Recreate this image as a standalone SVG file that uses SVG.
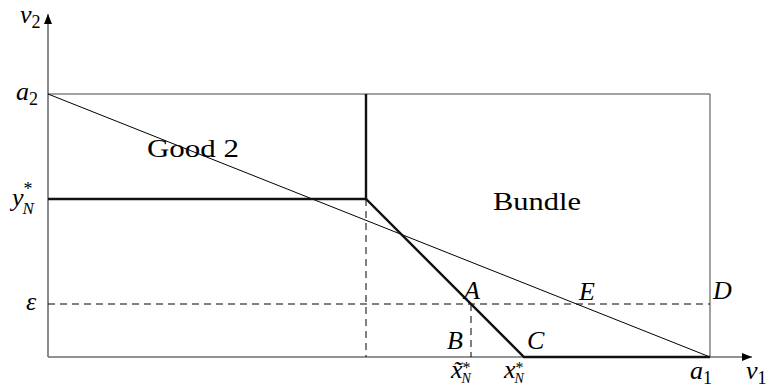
<svg xmlns="http://www.w3.org/2000/svg" width="769" height="387" viewBox="0 0 769 387">
<defs>
<marker id="arr" viewBox="0 0 10 10" refX="10" refY="5" markerWidth="10" markerHeight="10" markerUnits="userSpaceOnUse" orient="auto">
<path d="M0,1 L10,5 L0,9 Z" fill="#000"/>
</marker>
<style>
.ax{stroke:#6e6e6e;stroke-width:1.6;fill:none}
.thin{stroke:#000;stroke-width:1;fill:none}
.box{stroke:#444;stroke-width:1;fill:none}
.thick{stroke:#111;stroke-width:2.4;fill:none;stroke-linejoin:miter}
.dash{stroke:#000;stroke-width:1;fill:none;stroke-dasharray:7,5}
text{font-family:"Liberation Serif","Times New Roman","DejaVu Serif",serif;fill:#000}
.m{font-style:italic;font-size:26px}
.n{font-style:normal;font-size:18px}
.s{font-style:italic;font-size:17px}
.st{font-style:normal;font-size:16px}
.ss{font-style:italic;font-size:14px}
.t{font-size:26px}
</style>
</defs>
<g id="connectors">
<line class="ax" x1="48" y1="357" x2="48" y2="14" marker-end="url(#arr)"/>
<line class="ax" x1="48" y1="357" x2="752" y2="357" marker-end="url(#arr)"/>
<polyline class="box" points="48,94 710,94 710,357"/>
<line class="thin" x1="48" y1="94" x2="710" y2="357"/>
<line class="dash" x1="48" y1="304" x2="710" y2="304"/>
<line class="dash" x1="366" y1="199" x2="366" y2="357"/>
<line class="dash" x1="471" y1="304" x2="471" y2="357"/>
<polyline class="thick" points="48,199 366,199 524,357 710,357"/>
<line class="thick" x1="366" y1="94" x2="366" y2="199"/>
</g>
<g id="label-v2"><text class="m" x="20" y="23">v<tspan class="n" dy="5">2</tspan></text></g>
<g id="label-a2"><text class="m" x="16" y="100">a<tspan class="n" dy="5">2</tspan></text></g>
<g id="label-yN"><text class="m" x="12" y="206">y<tspan class="n" dy="-11">*</tspan><tspan class="s" dx="-10" dy="19">N</tspan></text></g>
<g id="label-eps"><text class="m" x="26" y="310" fill="#444">ε</text></g>
<g id="region-good2"><text class="t" x="147" y="157" textLength="92" lengthAdjust="spacingAndGlyphs">Good 2</text></g>
<g id="region-bundle"><text class="t" x="493" y="210" textLength="88" lengthAdjust="spacingAndGlyphs">Bundle</text></g>
<g id="point-A"><text class="m" x="464" y="299">A</text></g>
<g id="point-E"><text class="m" x="579" y="300">E</text></g>
<g id="point-D"><text class="m" x="713" y="299">D</text></g>
<g id="point-B"><text class="m" x="447" y="349">B</text></g>
<g id="point-C"><text class="m" x="527" y="349">C</text></g>
<g id="label-xtilde"><text class="m" x="451" y="378">x̃<tspan class="st" dy="-5">*</tspan><tspan class="ss" dx="-9" dy="10">N</tspan></text></g>
<g id="label-xN"><text class="m" x="504" y="378">x<tspan class="st" dy="-5">*</tspan><tspan class="ss" dx="-9" dy="10">N</tspan></text></g>
<g id="label-a1"><text class="m" x="690" y="379">a<tspan class="n" dy="5">1</tspan></text></g>
<g id="label-v1"><text class="m" x="746" y="379">v<tspan class="n" dy="5">1</tspan></text></g>
</svg>
